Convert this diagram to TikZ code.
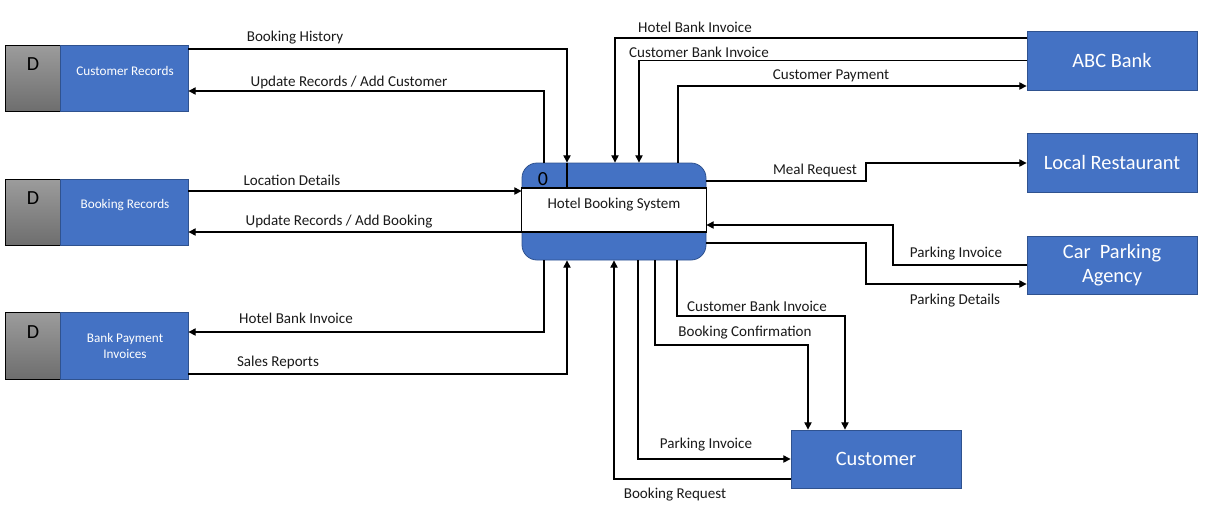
\documentclass[tikz,border=0pt]{standalone}
\usepackage{fontspec}
\setmainfont{Carlito}
\usetikzlibrary{arrows.meta,calc}
\definecolor{boxblue}{HTML}{4472C4}
\definecolor{boxedge}{HTML}{2F528F}
\definecolor{graytop}{HTML}{9C9C9C}
\definecolor{graybot}{HTML}{6E6E6E}
\definecolor{labelcol}{HTML}{1A1A1A}
\tikzset{
  flow/.style={draw=black, line width=0.8pt, -{Triangle[length=5.5pt,width=5.5pt]}},
  plainline/.style={draw=black, line width=0.8pt},
  lbl/.style={font=\fontsize{11.3}{13}\selectfont, text=labelcol, inner sep=0pt, yshift=-1.5pt},
  storeblue/.style={draw=boxedge, fill=boxblue, line width=0.6pt, minimum width=96pt, inner sep=0pt},
  storegray/.style={draw=black, top color=graytop, bottom color=graybot, line width=0.6pt, minimum width=41.25pt, inner sep=0pt},
  storetext/.style={font=\fontsize{9.9}{12.5}\selectfont, text=white, align=center, inner sep=0pt},
  dlabel/.style={font=\fontsize{15}{17}\selectfont, text=black, inner sep=0pt, yshift=-0.75pt},
  entity/.style={draw=boxedge, fill=boxblue, line width=0.6pt, minimum width=127.5pt, minimum height=44.25pt, inner sep=0pt, text=white, align=center, font=\fontsize{15.3}{18.5}\selectfont},
}
\begin{document}
\begin{tikzpicture}[x=0.75pt,y=-0.75pt]
\useasboundingbox (0,0) rectangle (1209,519);

% data stores
\node[storegray, minimum height=49.5pt] (g1) at (32.5,78) {};
\node[storeblue, minimum height=49.5pt] (cr) at (124,78) {};
\node[dlabel] (d1) at (33,63) {D};
\node[storetext] (t1) at (125,71) {Customer Records};

\node[storegray, minimum height=49.5pt] (g2) at (32.5,212) {};
\node[storeblue, minimum height=49.5pt] (br) at (124,212) {};
\node[dlabel] (d2) at (33,197) {D};
\node[storetext] (t2) at (125,205) {Booking Records};

\node[storegray, minimum height=50.25pt] (g3) at (32.5,345.5) {};
\node[storeblue, minimum height=50.25pt] (bp) at (124,345.5) {};
\node[dlabel] (d3) at (33,331) {D};
\node[storetext] (t3) at (125,346) {Bank Payment\\Invoices};

% process
\node[draw=boxedge, fill=boxblue, line width=0.6pt, rounded corners=11.25pt, minimum width=138pt, minimum height=72.75pt, inner sep=0pt] (p) at (614,211.5) {};
\draw[fill=white, draw=black, line width=0.8pt] (p.west |- 0,188) rectangle (p.east |- 0,232);
\draw[plainline] (567,0 |- p.north) -- (567,188);
\node[dlabel] (p0) at (543,178) {0};
\node[lbl] (pt) at (614,203) {Hotel Booking System};

% external entities
\node[entity] (abc) at (1112,60.5) {ABC Bank};
\node[entity] (lr) at (1112,162.5) {Local Restaurant};
\node[entity, minimum height=43.5pt] (cp) at (1112,265) {Car\ \ Parking\\Agency};
\node[entity, minimum height=43.5pt] (cu) at (876,459) {Customer};

% connectors: stores
\draw[flow] (cr.east |- 0,49) -| (567,0 |- p.north);
\draw[flow] (544,0 |- p.north) |- (cr.east |- 0,91);
\draw[flow] (br.east |- 0,191) -- (p.west |- 0,191);
\draw[flow] (p.west |- 0,232) -- (br.east |- 0,232);
\draw[flow] (544,0 |- p.south) |- (bp.east |- 0,332);
\draw[flow] (bp.east |- 0,374) -| (567,0 |- p.south);

% bank
\draw[flow] (abc.west |- 0,38) -| (615,0 |- p.north);
\draw[flow] (abc.west |- 0,60.5) -| (639,0 |- p.north);
\draw[flow] (678,0 |- p.north) |- (abc.west |- 0,86);

% restaurant and parking
\draw[flow] (p.east |- 0,181) -| (866,163) -- (lr.west |- 0,163);
\draw[flow] (cp.west |- 0,265) -| (893,225) -- (p.east |- 0,225);
\draw[flow] (p.east |- 0,243) -| (866,284) -- (cp.west |- 0,284);

% customer
\draw[flow] (cu.west |- 0,479) -| (614,0 |- p.south);
\draw[flow] (638,0 |- p.south) |- (cu.west |- 0,459);
\draw[flow] (655,0 |- p.south) |- (808,345) -- (808,0 |- cu.north);
\draw[flow] (677,0 |- p.south) |- (845,316) -- (845,0 |- cu.north);

% labels
\node[lbl] (l1) at (295,36) {Booking History};
\node[lbl] (l2) at (349,80) {Update Records / Add Customer};
\node[lbl] (l3) at (292,178) {Location Details};
\node[lbl] (l4) at (339,220) {Update Records / Add Booking};
\node[lbl] (l5) at (296,316) {Hotel Bank Invoice};
\node[lbl] (l6) at (278,360) {Sales Reports};
\node[lbl] (l7) at (695,25) {Hotel Bank Invoice};
\node[lbl] (l8) at (699,50) {Customer Bank Invoice};
\node[lbl] (l9) at (831,74) {Customer Payment};
\node[lbl] (l10) at (815,168) {Meal Request};
\node[lbl] (l11) at (956,252) {Parking Invoice};
\node[lbl] (l12) at (955,299) {Parking Details};
\node[lbl] (l13) at (757,304) {Customer Bank Invoice};
\node[lbl] (l14) at (745,331) {Booking Confirmation};
\node[lbl] (l15) at (706,443) {Parking Invoice};
\node[lbl] (l16) at (675,493) {Booking Request};
\end{tikzpicture}
\end{document}
